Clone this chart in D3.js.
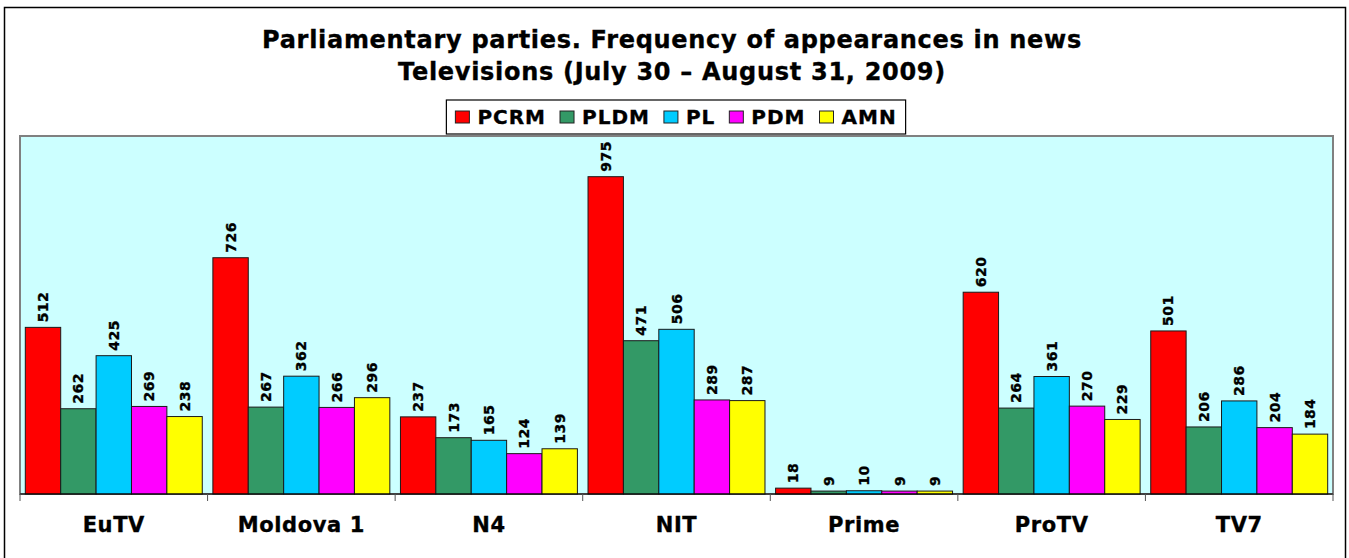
<!DOCTYPE html>
<html>
<head>
<meta charset="utf-8">
<script src="https://cdn.jsdelivr.net/npm/d3@7"></script>
<style>
  body { margin: 0; background: #fff; }
  svg { display: block; font-family: "DejaVu Sans", Verdana, sans-serif; font-weight: bold; }
  svg text { stroke: #000; stroke-width: 0.35px; }
</style>
</head>
<body>
<svg id="chart" width="1349" height="558"></svg>
<script>
// channels on the x axis
const channels = ["EuTV", "Moldova 1", "N4", "NIT", "Prime", "ProTV", "TV7"];
const parties = ["PCRM", "PLDM", "PL", "PDM", "AMN"];
const partyColors = ["#FF0000", "#339966", "#00CCFF", "#FF00FF", "#FFFF00"];

// appearances per party, same order as channels
const pcrm = [512, 726, 237, 975, 18, 620, 501];
const pldm = [262, 267, 173, 471, 9, 264, 206];
const pl   = [425, 362, 165, 506, 10, 361, 286];
const pdm  = [269, 266, 124, 289, 9, 270, 204];
const amn  = [238, 296, 139, 287, 9, 229, 184];

const titleLines = [
  "Parliamentary parties. Frequency of appearances in news",
  "Televisions (July 30 \u2013 August 31, 2009)"
];

const seriesValues = [pcrm, pldm, pl, pdm, amn];
const color = d3.scaleOrdinal(parties, partyColors);

const svg = d3.select("#chart");

// outer frame
svg.append("rect")
    .attr("x", 4.5).attr("y", 7.5)
    .attr("width", 1341).attr("height", 560)
    .attr("fill", "#fff")
    .attr("stroke", "#000")
    .attr("stroke-width", 1.5);

const plot = { left: 20, right: 1333, top: 136, bottom: 494 };

const x0 = d3.scaleBand()
    .domain(channels)
    .range([plot.left, plot.right])
    .padding(0);

const x1 = d3.scaleBand()
    .domain(parties)
    .range([0, x0.bandwidth()])
    .paddingInner(0)
    .paddingOuter(0.15);

const y = d3.scaleLinear()
    .domain([0, 1100])
    .range([plot.bottom, plot.top]);

// plot background
svg.append("rect")
    .attr("x", plot.left).attr("y", plot.top)
    .attr("width", plot.right - plot.left)
    .attr("height", plot.bottom - plot.top)
    .attr("fill", "#CCFFFF")
    .attr("stroke", "#808080")
    .attr("stroke-width", 2);

// bars
const groups = svg.selectAll("g.group")
    .data(channels)
    .enter()
    .append("g")
        .attr("class", "group")
        .attr("transform", d => `translate(${x0(d)},0)`);

groups.selectAll("rect")
    .data((d, i) => parties.map((p, j) => ({ party: p, value: seriesValues[j][i] })))
    .enter()
    .append("rect")
        .attr("x", d => x1(d.party))
        .attr("y", d => y(d.value))
        .attr("width", x1.bandwidth())
        .attr("height", d => y(0) - y(d.value))
        .attr("fill", d => color(d.party))
        .attr("stroke", "#1a1a1a")
        .attr("stroke-width", 1);

// value labels, rotated
groups.selectAll("text.val")
    .data((d, i) => parties.map((p, j) => ({ party: p, value: seriesValues[j][i] })))
    .enter()
    .append("text")
        .attr("class", "val")
        .attr("transform", d => `translate(${x1(d.party) + x1.bandwidth() / 2},${y(d.value) - 5}) rotate(-90)`)
        .attr("dy", "0.36em")
        .attr("font-size", 14)
        .attr("letter-spacing", 0.5)
        .attr("fill", "#000")
        .text(d => d.value);

// x axis
const xAxis = svg.append("g")
    .attr("transform", `translate(0,${plot.bottom})`);

xAxis.append("line")
    .attr("x1", plot.left).attr("x2", plot.right)
    .attr("stroke", "#000").attr("stroke-width", 1.2);

const tickPos = channels.map(c => x0(c)).concat([plot.right]);
xAxis.selectAll("line.tick")
    .data(tickPos)
    .enter()
    .append("line")
        .attr("class", "tick")
        .attr("x1", d => d).attr("x2", d => d)
        .attr("y1", 0).attr("y2", 7)
        .attr("stroke", "#555");

xAxis.selectAll("text")
    .data(channels)
    .enter()
    .append("text")
        .attr("x", d => x0(d) + x0.bandwidth() / 2)
        .attr("y", 38)
        .attr("text-anchor", "middle")
        .attr("font-size", 21)
        .attr("letter-spacing", 0.6)
        .text(d => d);

// title
svg.selectAll("text.title")
    .data(titleLines)
    .enter()
    .append("text")
        .attr("class", "title")
        .attr("x", 672)
        .attr("y", (d, i) => 48 + i * 32)
        .attr("text-anchor", "middle")
        .attr("font-size", 24)
        .attr("letter-spacing", 0.7)
        .text(d => d);

// legend
const legend = svg.append("g");
const legendBox = legend.append("rect")
    .attr("fill", "#fff")
    .attr("stroke", "#000")
    .attr("stroke-width", 1.2);

let lx = 0;
parties.forEach((p, i) => {
    legend.append("rect")
        .attr("x", lx).attr("y", -6)
        .attr("width", 14).attr("height", 12)
        .attr("fill", color(p))
        .attr("stroke", "#222");
    const t = legend.append("text")
        .attr("x", lx + 22)
        .attr("y", 0)
        .attr("dy", "0.36em")
        .attr("font-size", 20)
        .attr("letter-spacing", 1)
        .text(p);
    lx += 22 + t.node().getComputedTextLength() + 14;
});
lx -= 14;
const legendLeft = 676 - lx / 2;
legend.attr("transform", `translate(${legendLeft},117)`);
legendBox
    .attr("x", -9).attr("y", -17)
    .attr("width", lx + 18).attr("height", 34);
</script>
</body>
</html>
